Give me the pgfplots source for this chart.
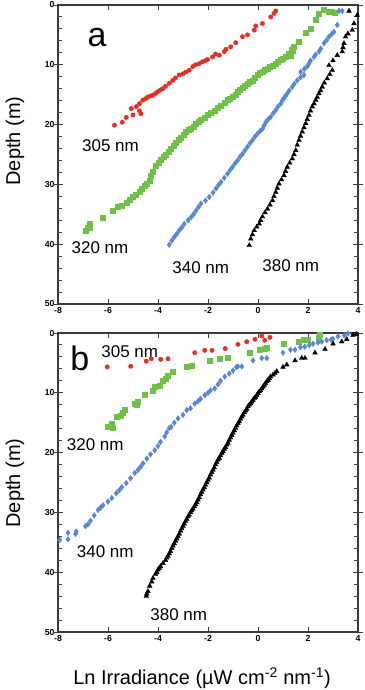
\documentclass[border=0pt]{standalone}
\usepackage{fontspec}
\setmainfont{Liberation Sans}
\usepackage{pgfplots}
\pgfplotsset{compat=1.18}
\definecolor{cred}{RGB}{232,45,35}
\definecolor{cgreen}{RGB}{110,192,70}
\definecolor{cblue}{RGB}{85,135,212}
\definecolor{cframe}{RGB}{60,60,60}
\tikzset{lab/.style={font=\fontsize{17}{18}\selectfont}}
\pgfplotsset{
  panel/.style={
    width=300pt, height=299pt, scale only axis,
    xmin=-8, xmax=4, ymin=0, ymax=50, y dir=reverse,
    xtick={-8,-6,-4,-2,0,2,4}, xticklabels={-8,-6,-4,-2,0,2,4},
    ytick={0,10,20,30,40,50}, yticklabels={0,10,20,30,40,50},
    minor ytick={2,4,6,8,12,14,16,18,22,24,26,28,32,34,36,38,42,44,46,48},
    extra y ticks={0,10,20,30,40,50}, extra y tick labels={},
    extra y tick style={tick align=outside, major tick length=5pt},
    tick align=inside, major tick length=5pt, minor tick length=4pt,
    tick label style={font=\bfseries\fontsize{8.7}{9}\selectfont},
    axis line style={cframe, line width=1.1pt},
    every tick/.style={cframe, line width=1pt},
    clip=false,
  },
  r/.style={only marks, mark=*, mark size=2.2pt, color=cred},
  g/.style={only marks, mark=square*, mark size=2.5pt, color=cgreen},
  bl/.style={only marks, mark=diamond*, mark size=2.8pt, color=cblue},
  k/.style={only marks, mark=triangle*, mark size=2.7pt, color=black},
}
\begin{document}
\begin{tikzpicture}
\begin{axis}[panel, at={(0pt,0pt)}, anchor=north west]
\addplot[r] coordinates {
(0.71,1.0)(0.64,1.4)(0.51,2.0)(0.18,3.1)(-0.09,3.5)(-0.15,4.2)(-0.42,5.0)(-0.62,5.3)
(-0.89,6.3)(-1.09,7.0)(-1.28,7.4)(-1.35,7.8)(-1.55,8.4)(-1.7,8.2)(-1.82,8.7)(-2.02,9.1)
(-2.1,9.3)(-2.22,9.5)(-2.35,9.8)(-2.5,10.0)(-2.61,10.3)(-2.75,10.9)(-2.88,11.2)(-3.0,11.5)
(-3.15,11.7)(-3.3,12.2)(-3.41,12.6)(-3.55,13.1)(-3.7,13.6)(-3.81,14.0)(-3.9,14.2)(-4.01,14.5)
(-4.1,14.8)(-4.21,15.1)(-4.3,15.2)(-4.41,15.4)(-4.5,15.7)(-4.61,15.9)(-4.74,16.5)(-4.87,17.0)(-5.07,17.3)(-4.74,17.7)
(-4.68,18.2)(-5.0,18.4)(-5.27,18.8)(-5.43,19.6)(-5.74,20.1)
};
\addplot[g] coordinates {
(2.64,0.84)(2.84,1.1)(3.05,1.3)(2.95,1.1)(2.44,1.4)(2.31,2.5)(2.11,3.9)(1.91,4.7)(1.64,6.1)
(1.44,7.0)(1.35,7.5)(1.4,7.7)(1.24,8.1)(1.3,8.4)(1.11,8.7)(1.0,9.0)(0.91,9.2)(0.8,9.5)(0.71,9.8)(0.58,10.1)(0.45,10.4)
(0.38,10.6)(0.28,10.9)(0.18,11.2)(0.08,11.4)(-0.02,11.7)(-0.12,12.2)(-0.22,12.6)(-0.32,12.8)(-0.42,13.1)(-0.52,13.5)(-0.62,13.8)(-0.72,14.1)(-0.82,14.5)
(-0.9,15.0)(-1.02,15.4)(-1.12,15.6)(-1.22,15.9)(-1.35,16.4)(-1.48,16.8)(-1.6,17.2)(-1.75,17.6)(-1.9,18.0)(-2.02,18.3)
(-2.15,18.8)(-2.28,19.2)(-2.38,19.5)(-2.48,19.8)(-2.58,20.3)(-2.68,20.7)(-2.78,20.9)(-2.88,21.2)(-2.98,21.7)(-3.08,22.2)(-3.18,22.6)(-3.28,23.1)(-3.38,23.5)(-3.48,24.0)
(-3.58,24.5)(-3.68,25.0)(-3.78,25.4)(-3.88,25.9)(-3.98,26.3)(-4.08,26.8)(-4.21,27.9)(-4.3,28.6)(-4.34,29.3)(-4.45,29.8)(-4.54,30.2)(-4.64,30.8)(-4.74,31.3)(-4.88,31.7)(-5.01,32.1)
(-5.15,32.6)(-5.27,33.1)(-5.45,33.5)(-5.61,33.8)(-5.81,34.4)(-6.2,35.5)(-6.74,36.5)(-6.8,37.2)(-6.9,37.7)(-6.74,37.2)
};
\addplot[bl] coordinates {
(3.24,1.0)(3.37,1.0)(3.17,3.35)(3.04,4.5)(2.94,4.9)(2.84,5.3)(2.74,5.9)(2.64,6.4)(2.51,7.3)(2.44,7.8)(2.3,8.3)
(2.24,8.7)(2.1,9.3)(2.04,9.8)(1.97,10.3)(1.85,10.7)(1.71,11.2)(1.84,11.7)(1.7,12.1)(1.57,12.6)(1.45,13.2)
(1.37,13.7)(1.25,14.3)(1.17,14.8)(1.1,15.2)(1.04,15.6)(0.97,16.0)(0.91,16.5)(0.8,17.0)(0.71,17.6)(0.61,18.1)(0.51,18.7)
(0.41,19.1)(0.31,19.6)(0.25,20.1)(0.18,20.7)(0.08,21.1)(-0.02,21.5)(-0.12,22.0)(-0.22,22.6)(-0.32,23.1)(-0.42,23.7)(-0.52,24.3)(-0.62,24.9)(-0.72,25.4)(-0.82,26.0)(-0.92,26.5)(-1.02,27.1)
(-1.12,27.6)(-1.22,28.2)(-1.35,28.9)(-1.48,29.6)(-1.58,30.1)(-1.68,30.7)(-1.8,31.4)(-1.95,32.1)(-2.1,32.7)(-2.28,33.2)(-2.38,33.8)(-2.48,34.4)(-2.58,35.0)(-2.68,35.5)
(-2.8,36.0)(-2.95,36.6)(-3.05,37.2)(-3.15,37.7)(-3.25,38.3)(-3.35,38.8)(-3.45,39.4)(-3.55,40.1)
};
\addplot[k] coordinates {
(3.64,1.0)(3.97,1.7)(3.84,3.1)(3.77,4.2)(3.6,4.8)(3.5,5.3)(3.44,6.4)(3.4,7.1)(3.37,7.8)(3.17,8.4)(3.0,9.3)(2.84,10.1)
(2.97,10.9)(2.87,11.6)(2.77,12.3)(2.65,13.0)(2.57,13.7)(2.5,14.3)(2.44,14.8)(2.37,15.4)(2.31,15.9)(2.24,16.5)(2.17,17.0)(2.1,17.7)(2.04,18.4)
(1.97,19.1)(1.91,19.8)(1.84,20.5)(1.77,21.2)(1.7,21.9)(1.64,22.6)(1.57,23.4)(1.51,24.3)(1.44,25.0)(1.37,25.7)(1.27,26.4)(1.17,27.1)(1.1,27.8)(1.04,28.5)
(0.94,29.2)(0.84,29.9)(0.77,30.6)(0.71,31.3)(0.64,32.0)(0.58,32.7)(0.48,33.4)(0.38,34.1)(0.28,34.7)(0.18,35.4)(0.1,36.0)(0.05,36.6)(-0.05,37.1)(-0.15,37.7)(-0.22,38.4)(-0.29,39.1)(-0.35,40.2)
};
\node[font=\fontsize{34}{36}\selectfont] at (axis cs:-6.44,5.4) {a};
\node[lab] at (axis cs:-5.9,23.5) {305 nm};
\node[lab] at (axis cs:-6.32,40.6) {320 nm};
\node[lab] at (axis cs:-2.29,43.9) {340 nm};
\node[lab] at (axis cs:1.31,43.6) {380 nm};
\end{axis}
\begin{axis}[panel, at={(0pt,-328pt)}, anchor=north west]
\addplot[r] coordinates {
(-6.03,5.67)(-5.09,5.56)(-4.47,4.7)(-4.27,4.3)(-3.89,4.4)(-3.6,4.3)(-2.53,3.3)(-2.13,2.9)
(-1.84,2.9)(-1.31,2.6)(-0.8,1.9)(-0.45,1.45)(-0.12,1.05)(0.15,0.5)(0.27,1.2)(0.48,0.72)
};
\addplot[g] coordinates {
(-6.0,15.7)(-5.87,15.1)(-5.8,15.9)(-5.67,14.0)(-5.4,13.4)(-5.33,12.9)(-5.5,13.8)(-4.93,11.8)
(-4.8,11.5)(-4.85,12.0)(-4.53,10.4)(-4.2,9.6)(-4.13,9.0)(-3.95,8.8)(-3.8,7.9)(-3.6,7.1)(-3.7,7.6)
(-3.4,6.5)(-2.87,5.7)(-2.67,5.4)(-1.93,4.6)(-1.53,4.3)(-1.2,4.1)(-0.32,3.3)(0.08,2.8)(0.33,2.4)
(0.28,2.6)(1.01,1.8)(1.61,1.45)(1.81,1.2)(2.0,1.05)(2.41,0.72)(2.48,0.33)
};
\addplot[bl] coordinates {
(3.6,0.1)(3.45,0.4)(3.2,0.55)(3.0,1.0)(2.93,1.1)(2.75,1.2)(2.55,1.45)(2.4,1.6)(2.2,1.8)(2.05,2.0)
(1.87,2.3)(1.7,2.4)(1.48,2.8)(1.3,2.8)(1.0,3.3)(0.35,4.2)(0.15,4.2)(-0.2,4.6)(-0.65,5.6)
(-0.87,5.7)(-0.8,5.6)(-1.0,6.3)(-1.15,6.8)(-1.33,7.3)(-1.5,8.0)(-1.6,8.6)(-1.73,9.3)(-1.9,9.6)
(-2.0,10.0)(-2.13,10.4)(-2.3,11.0)(-2.4,11.4)(-2.53,11.8)(-2.7,12.6)(-2.85,12.9)(-3.0,13.7)(-3.2,14.3)(-3.35,15.0)
(-3.47,15.7)(-3.55,15.9)(-3.65,16.6)(-3.73,17.3)(-3.9,18.2)(-4.0,18.9)(-4.13,19.6)(-4.3,20.3)(-4.45,21.0)(-4.6,21.8)
(-4.7,22.4)(-4.8,22.9)(-4.93,23.4)(-5.1,24.3)(-5.27,25.1)(-5.45,25.8)(-5.55,26.3)(-5.67,26.8)(-5.85,27.6)(-6.0,28.2)
(-6.2,28.8)(-6.3,29.2)(-6.4,29.6)(-6.55,30.5)(-6.7,31.4)(-6.8,32.0)(-6.9,32.3)(-7.27,33.2)(-7.3,33.6)(-7.6,33.4)
(-7.6,34.5)(-7.93,34.6)
};
\addplot[k] coordinates {
(3.8,0.33)(3.93,0.2)(3.55,1.05)(3.35,1.45)(3.0,1.8)(2.68,2.7)(2.28,3.3)(1.88,4.2)(1.75,4.2)
(1.48,4.6)(1.15,5.3)(1.0,5.7)(0.75,6.4)(0.68,6.7)(0.6,7.0)(0.5,7.3)(0.45,7.6)(0.4,7.9)(0.35,8.1)(0.3,8.4)(0.25,8.7)(0.2,9.0)(0.15,9.3)(0.1,9.6)(0.05,9.8)
(0.0,10.1)(-0.05,10.4)(-0.1,10.7)(-0.15,10.9)(-0.2,11.2)(-0.25,11.5)(-0.3,11.8)(-0.35,12.0)(-0.4,12.3)(-0.45,12.7)(-0.5,13.0)(-0.55,13.3)(-0.6,13.7)(-0.65,14.0)(-0.7,14.4)(-0.75,14.8)(-0.8,15.1)
(-0.85,15.5)(-0.9,15.9)(-0.95,16.3)(-1.0,16.7)(-1.05,17.1)(-1.1,17.5)(-1.15,17.9)(-1.2,18.4)(-1.25,18.7)(-1.3,19.1)(-1.35,19.4)(-1.4,19.8)(-1.45,20.1)(-1.5,20.5)(-1.55,20.9)(-1.6,21.2)
(-1.65,21.6)(-1.7,22.0)(-1.75,22.5)(-1.8,22.9)(-1.85,23.3)(-1.9,23.7)(-1.95,24.2)(-2.0,24.6)(-2.05,25.0)(-2.1,25.4)(-2.15,25.8)(-2.2,26.2)(-2.25,26.6)(-2.3,27.0)(-2.35,27.5)(-2.4,27.9)
(-2.45,28.3)(-2.5,28.7)(-2.55,29.0)(-2.6,29.4)(-2.65,29.7)(-2.7,30.0)(-2.75,30.4)(-2.8,30.7)(-2.85,31.1)(-2.9,31.5)(-2.95,31.9)(-3.0,32.3)(-3.05,32.7)(-3.1,33.1)(-3.15,33.6)(-3.2,34.0)
(-3.25,34.4)(-3.3,34.8)(-3.35,35.2)(-3.4,35.6)(-3.45,36.0)(-3.5,36.5)(-3.55,36.9)(-3.6,37.3)(-3.65,37.6)(-3.7,38.0)(-3.8,38.5)(-3.9,39.0)(-3.95,39.3)(-4.0,39.6)
(-4.05,40.0)(-4.1,40.3)(-4.2,41.0)(-4.25,41.6)(-4.33,42.3)(-4.4,43.2)(-4.45,43.6)(-4.47,44.0)
};
\node[font=\fontsize{34}{36}\selectfont] at (axis cs:-7.13,4.3) {b};
\node[lab] at (axis cs:-5.13,3.2) {305 nm};
\node[lab] at (axis cs:-6.51,18.7) {320 nm};
\node[lab] at (axis cs:-6.11,36.5) {340 nm};
\node[lab] at (axis cs:-3.17,47.1) {380 nm};
\end{axis}
\node[rotate=90, font=\fontsize{20}{22}\selectfont] at (-43pt,-136pt) {Depth (m)};
\node[rotate=90, font=\fontsize{20}{22}\selectfont] at (-43pt,-478pt) {Depth (m)};
\node[font=\fontsize{20}{22}\selectfont] at (144pt,-673pt) {Ln Irradiance (µW cm\textsuperscript{-2} nm\textsuperscript{-1})};
\pgfresetboundingbox
\path[use as bounding box] (-58pt,5pt) rectangle (306pt,-685pt);
\end{tikzpicture}
\end{document}
